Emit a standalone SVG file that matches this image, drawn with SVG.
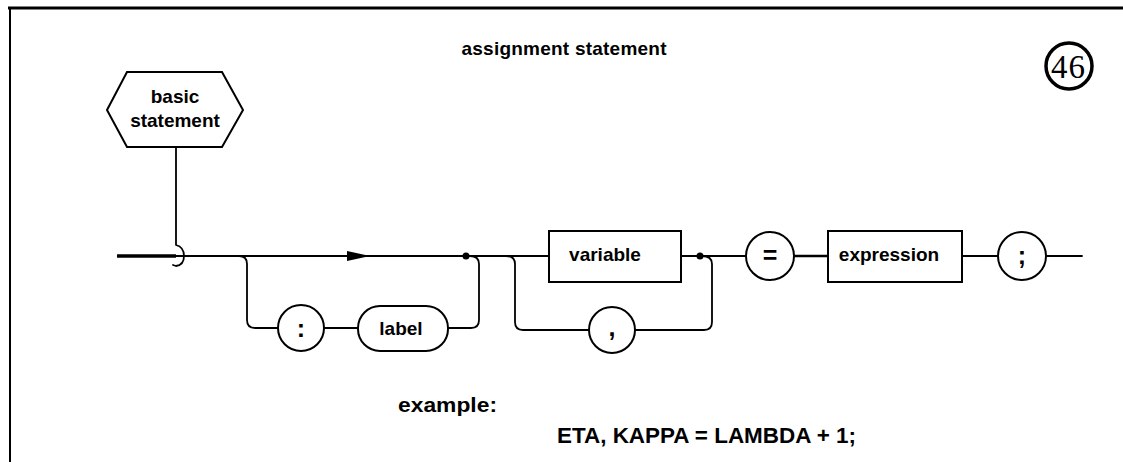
<svg xmlns="http://www.w3.org/2000/svg" width="1123" height="462" viewBox="0 0 1123 462">
<style>
.ln{fill:none;stroke:#000;stroke-width:1.8;stroke-linecap:round;stroke-linejoin:round}
.sh{fill:#fff;stroke:#000;stroke-width:2}
.t{font-family:"Liberation Sans",Arial,sans-serif;font-weight:bold;font-size:19px;fill:#000;text-anchor:middle}
.sym{font-family:"Liberation Sans",Arial,sans-serif;font-weight:bold;font-size:25px;fill:#000;text-anchor:middle}
</style>
<rect width="1123" height="462" fill="#fff"/>
<g id="frame">
<line x1="8" y1="8" x2="1123" y2="8" stroke="#000" stroke-width="3"/>
<line x1="10" y1="8" x2="10" y2="462" stroke="#000" stroke-width="2"/>
</g>
<g id="title"><text class="t" x="564" y="55" textLength="205" lengthAdjust="spacing">assignment statement</text></g>
<g id="number">
<circle cx="1069" cy="66" r="23" fill="#fff" stroke="#000" stroke-width="3.5"/>
<text x="1068" y="78" font-family="Liberation Serif,serif" font-size="33" text-anchor="middle" textLength="34" lengthAdjust="spacing">46</text>
</g>
<g id="connectors">
<path class="ln" d="M176,147 V245 Q184,247 184,256 Q184,265 176,266 L173,265"/>
<line x1="117" y1="256" x2="176" y2="256" stroke="#000" stroke-width="3.5"/>
<path class="ln" d="M176,256 H549"/>
<polygon points="347,251 370,256 347,261" fill="#000"/>
<circle cx="466" cy="256" r="3.5" fill="#000"/>
<path class="ln" d="M239,256 Q247,256 247,264 V320 Q247,328 255,328 H278"/>
<path class="ln" d="M324,328 H358"/>
<path class="ln" d="M448,328 H471 Q479,328 479,320 V264 Q479,256 470,256"/>
<path class="ln" d="M506,256 Q515,256 515,264 V322 Q515,330 523,330 H589"/>
<path class="ln" d="M635,330 H704 Q712,330 712,322 V264 Q712,256 702,256"/>
<circle cx="700" cy="256" r="3.5" fill="#000"/>
<path class="ln" d="M681,256 H746"/>
<line x1="794" y1="256" x2="828" y2="256" stroke="#000" stroke-width="2.5"/>
<path class="ln" d="M962,256 H998"/>
<path class="ln" d="M1046,256 H1082"/>
</g>
<g id="basic-statement">
<polygon class="sh" points="107,110 127,72 222,72 243,110 222,147 127,147"/>
<text class="t" x="175" y="103">basic</text>
<text class="t" x="175" y="127">statement</text>
</g>
<g id="colon">
<circle class="sh" cx="301" cy="328" r="23"/>
<text class="sym" x="301" y="337">:</text>
</g>
<g id="label">
<rect class="sh" x="358" y="306" width="90" height="45" rx="22" ry="22"/>
<text class="t" x="401" y="335">label</text>
</g>
<g id="variable">
<rect class="sh" x="549" y="231" width="132" height="51"/>
<text class="t" x="605" y="261">variable</text>
</g>
<g id="comma">
<circle class="sh" cx="612" cy="330" r="23"/>
<text class="sym" x="612" y="336">,</text>
</g>
<g id="equals">
<circle class="sh" cx="770" cy="256" r="24"/>
<text class="sym" x="770" y="264">=</text>
</g>
<g id="expression">
<rect class="sh" x="828" y="231" width="134" height="51"/>
<text class="t" x="889" y="261">expression</text>
</g>
<g id="semicolon">
<circle class="sh" cx="1022" cy="256" r="24"/>
<text class="sym" x="1022" y="264">;</text>
</g>
<g id="example">
<text x="398" y="412" font-family="Liberation Sans,Arial,sans-serif" font-weight="bold" font-size="21" textLength="99" lengthAdjust="spacingAndGlyphs">example:</text>
<text x="557" y="443" font-family="Liberation Sans,Arial,sans-serif" font-weight="bold" font-size="22" textLength="299" lengthAdjust="spacingAndGlyphs">ETA, KAPPA = LAMBDA + 1;</text>
</g>
</svg>
